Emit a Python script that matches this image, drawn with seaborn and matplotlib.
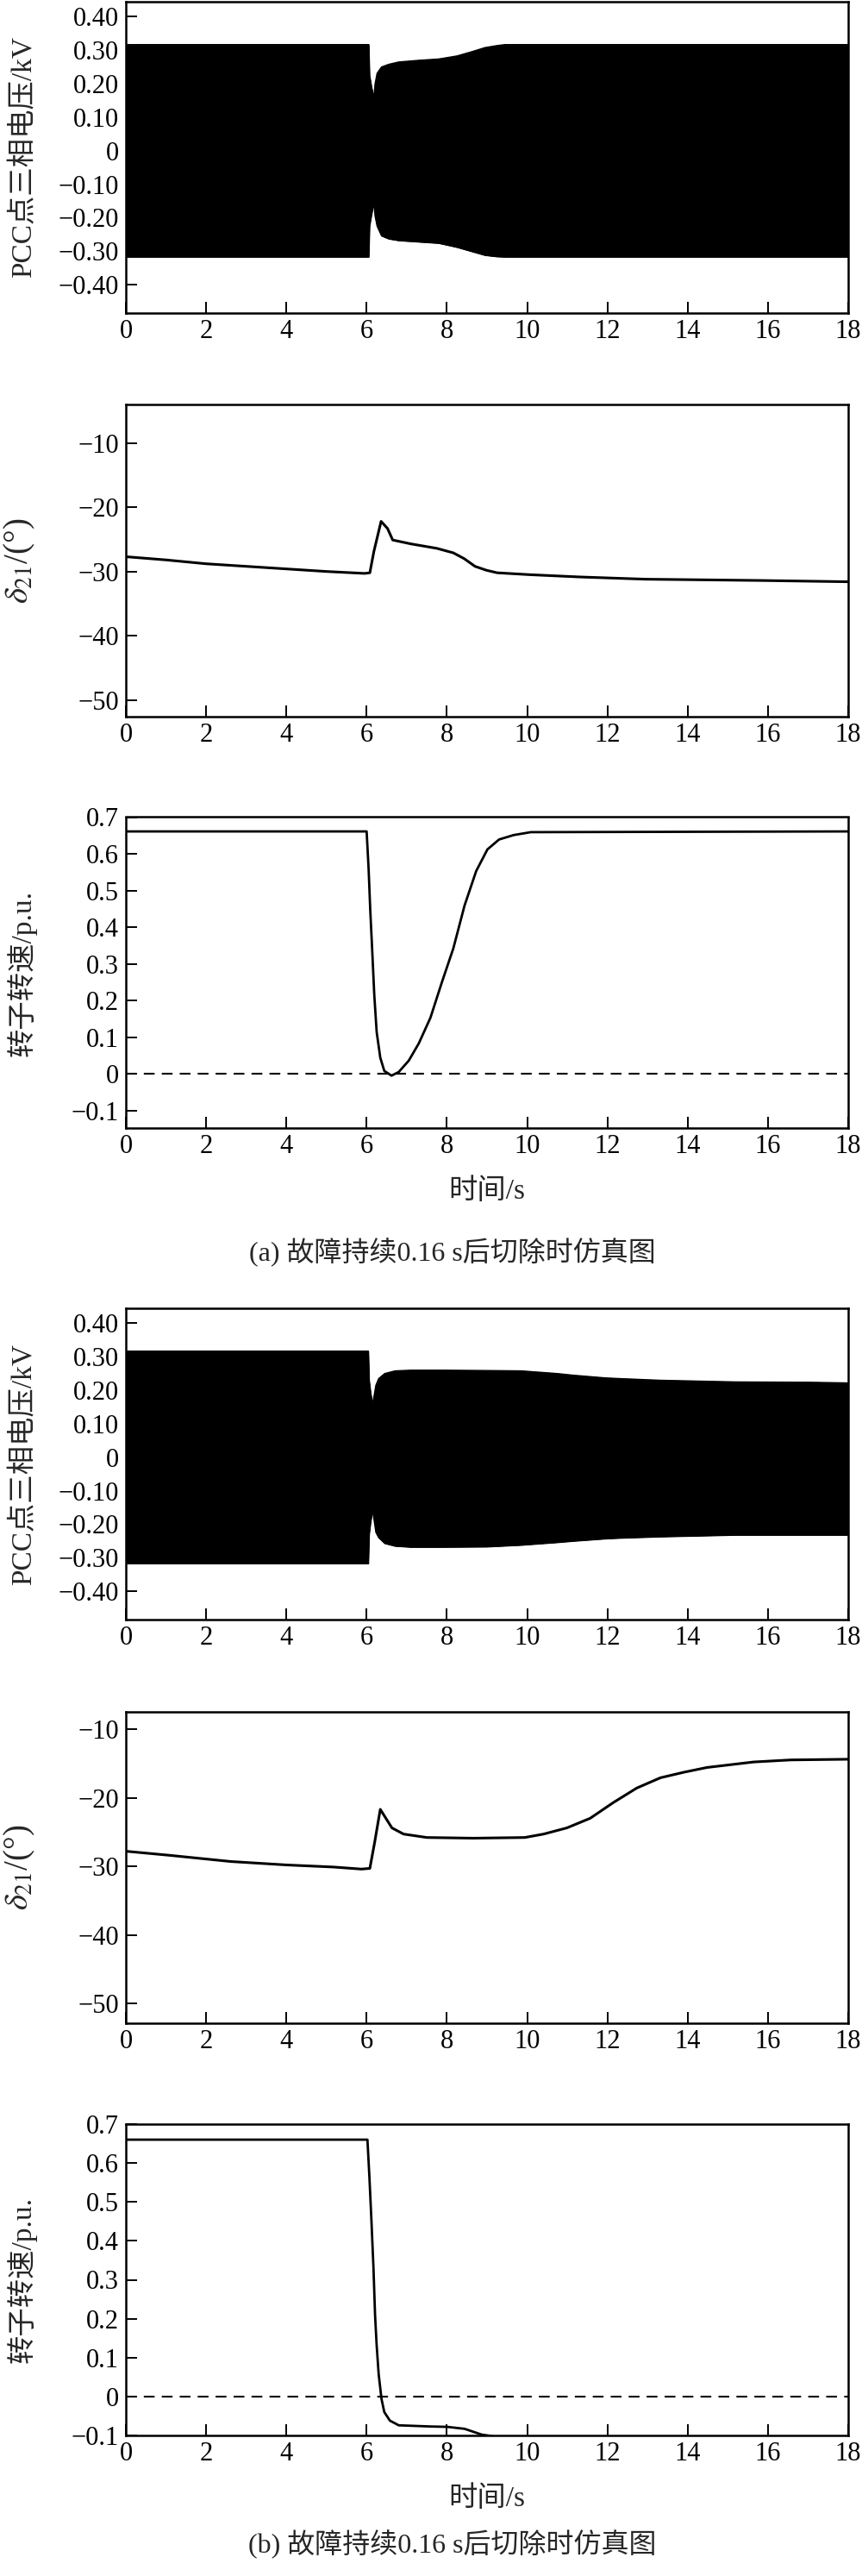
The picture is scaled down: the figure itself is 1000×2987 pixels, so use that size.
import numpy as np
import pandas as pd
import matplotlib
matplotlib.use("Agg")
import matplotlib.pyplot as plt
from matplotlib.ticker import FuncFormatter
import seaborn as sns

# ---- data ----
# (a) PCC voltage envelope (upper / lower edge of the dense 50 Hz band)
t_va = [0, 6.05, 6.07, 6.12, 6.18, 6.21, 6.26, 6.37, 6.55, 6.8, 7.3, 7.8, 8.25, 8.6, 8.95, 9.25, 9.45, 18]
up_va = [0.317, 0.317, 0.225, 0.19, 0.158, 0.20, 0.231, 0.25, 0.258, 0.265, 0.27, 0.274, 0.283, 0.295, 0.308, 0.314, 0.317, 0.317]
lo_va = [-0.317, -0.317, -0.225, -0.19, -0.155, -0.195, -0.225, -0.254, -0.263, -0.268, -0.272, -0.276, -0.288, -0.300, -0.312, -0.316, -0.317, -0.317]

# (a) power angle delta21
t_da = [0, 1, 2, 3, 4, 5, 5.95, 6.08, 6.18, 6.36, 6.52, 6.65, 7.1, 7.75, 8.16, 8.43, 8.7, 8.98, 9.25, 10.07, 11.3, 12.94, 15.81, 18]
d_a = [-27.7, -28.2, -28.8, -29.2, -29.6, -30.0, -30.3, -30.2, -26.9, -22.2, -23.3, -25.1, -25.7, -26.4, -27.1, -28.0, -29.2, -29.8, -30.2, -30.5, -30.85, -31.2, -31.4, -31.6]

# (a) rotor speed
t_sa = [0, 6.0, 6.05, 6.09, 6.14, 6.19, 6.25, 6.34, 6.44, 6.62, 6.80, 7.05, 7.30, 7.59, 7.87, 8.16, 8.44, 8.73, 9.01, 9.30, 9.66, 10.09, 18]
s_a = [0.661, 0.661, 0.557, 0.447, 0.334, 0.216, 0.114, 0.044, 0.008, -0.005, 0.005, 0.036, 0.083, 0.153, 0.248, 0.342, 0.459, 0.553, 0.612, 0.639, 0.651, 0.659, 0.661]

# (b) PCC voltage envelope
t_vb = [0, 6.04, 6.06, 6.10, 6.15, 6.23, 6.30, 6.45, 6.71, 7.1, 7.9, 9.0, 9.85, 10.75, 11.15, 11.95, 12.3, 13.3, 15.2, 17.0, 18]
up_vb = [0.317, 0.317, 0.23, 0.19, 0.159, 0.215, 0.235, 0.25, 0.258, 0.26, 0.26, 0.259, 0.258, 0.25, 0.245, 0.237, 0.235, 0.23, 0.225, 0.224, 0.222]
lo_vb = [-0.317, -0.317, -0.23, -0.19, -0.159, -0.224, -0.24, -0.257, -0.265, -0.268, -0.268, -0.267, -0.262, -0.254, -0.25, -0.243, -0.241, -0.237, -0.232, -0.232, -0.232]

# (b) power angle delta21
t_db = [0, 1.1, 2.62, 4.01, 5.17, 5.87, 6.08, 6.2, 6.34, 6.63, 6.92, 7.5, 8.66, 9.94, 10.41, 10.99, 11.57, 12.15, 12.73, 13.32, 13.9, 14.48, 15.64, 16.57, 18]
d_b = [-27.8, -28.4, -29.3, -29.8, -30.1, -30.4, -30.3, -26.5, -21.7, -24.4, -25.3, -25.8, -25.9, -25.8, -25.3, -24.4, -23.0, -20.7, -18.6, -17.1, -16.3, -15.6, -14.8, -14.5, -14.4]

# (b) rotor speed
t_sb = [0, 6.02, 6.07, 6.12, 6.17, 6.21, 6.25, 6.30, 6.37, 6.44, 6.58, 6.80, 7.59, 8.01, 8.44, 8.87, 9.08, 9.3, 9.6]
s_b = [0.66, 0.66, 0.562, 0.451, 0.331, 0.209, 0.131, 0.057, -0.006, -0.040, -0.062, -0.074, -0.077, -0.078, -0.083, -0.098, -0.101, -0.106, -0.115]

x_ticks = list(range(0, 19, 2))
v_ticks = [0.4, 0.3, 0.2, 0.1, 0, -0.1, -0.2, -0.3, -0.4]
d_ticks = [-10, -20, -30, -40, -50]
s_ticks = [0.7, 0.6, 0.5, 0.4, 0.3, 0.2, 0.1, 0, -0.1]

captions = ["(a) 故障持续0.16 s后切除时仿真图", "(b) 故障持续0.16 s后切除时仿真图"]

# ---- style ----
sns.set_style("ticks")
plt.rcParams['font.family'] = ['Liberation Serif', 'Noto Sans CJK SC']
plt.rcParams['mathtext.fontset'] = 'stix'
plt.rcParams['axes.unicode_minus'] = True

H = 2987.0
fig = plt.figure(figsize=(10, 29.87), dpi=100)


def make_ax(top, bottom):
    return fig.add_axes([0.146, 1 - bottom / H, 0.838, (bottom - top) / H])


def fmt_v(v, pos):
    if abs(v) < 1e-9:
        return "0"
    return f"{v:.2f}".replace("-", "\u2212")


def fmt_d(v, pos):
    return f"{v:.0f}".replace("-", "\u2212")


def fmt_s(v, pos):
    if abs(v) < 1e-9:
        return "0"
    return f"{v:.1f}".replace("-", "\u2212")


def style(ax, ylim, yticks, fmt, ylabel, lsize=24):
    ax.set_xlim(0, 18)
    ax.set_ylim(*ylim)
    ax.set_xticks(x_ticks)
    ax.set_yticks(yticks)
    ax.yaxis.set_major_formatter(FuncFormatter(fmt))
    ax.tick_params(direction='in', length=9.5, width=1.4, labelsize=22,
                   top=False, right=False, colors='black')
    ax.tick_params(axis='x', pad=5)
    ax.tick_params(axis='y', pad=6)
    for s in ax.spines.values():
        s.set_linewidth(1.8)
        s.set_color('black')
    ax.set_ylabel(ylabel, fontsize=lsize)
    ax.yaxis.set_label_coords(-0.123, 0.5)
    ax.set_xlabel('')


def voltage(ax, t, up, lo):
    ax.fill_between(t, lo, up, color='black', linewidth=0.8)
    sns.lineplot(x=t, y=up, ax=ax, color='black', linewidth=1)
    sns.lineplot(x=t, y=lo, ax=ax, color='black', linewidth=1)
    style(ax, (-0.485, 0.445), v_ticks, fmt_v, "PCC点三相电压/kV")


def angle(ax, t, d, ylim):
    sns.lineplot(x=t, y=d, ax=ax, color='black', linewidth=2.2)
    style(ax, ylim, d_ticks, fmt_d, r"$\delta_{21}$/(°)", lsize=28)


def speed(ax, t, s, ylim):
    ax.axhline(0, color='black', linewidth=1.5, dashes=(6, 4))
    sns.lineplot(x=t, y=s, ax=ax, color='black', linewidth=2)
    style(ax, ylim, s_ticks, fmt_s, "转子转速/p.u.")
    ax.set_xlabel("时间/s", fontsize=24)
    ax.xaxis.set_label_coords(0.5, -0.16)


# (a)
voltage(make_ax(2, 363), t_va, up_va, lo_va)
angle(make_ax(469, 831), t_da, d_a, (-52.6, -4.0))
speed(make_ax(947.5, 1308.5), t_sa, s_a, (-0.149, 0.7))
fig.text(0.525, 1 - 1452 / H, captions[0], ha='center', va='center', fontsize=23)

# (b)
voltage(make_ax(1517, 1878), t_vb, up_vb, lo_vb)
angle(make_ax(1985, 2346), t_db, d_b, (-52.85, -7.5))
speed(make_ax(2463, 2824), t_sb, s_b, (-0.1, 0.7))
fig.text(0.525, 1 - 2950 / H, captions[1], ha='center', va='center', fontsize=23)

fig.savefig("out.png", dpi=100)
